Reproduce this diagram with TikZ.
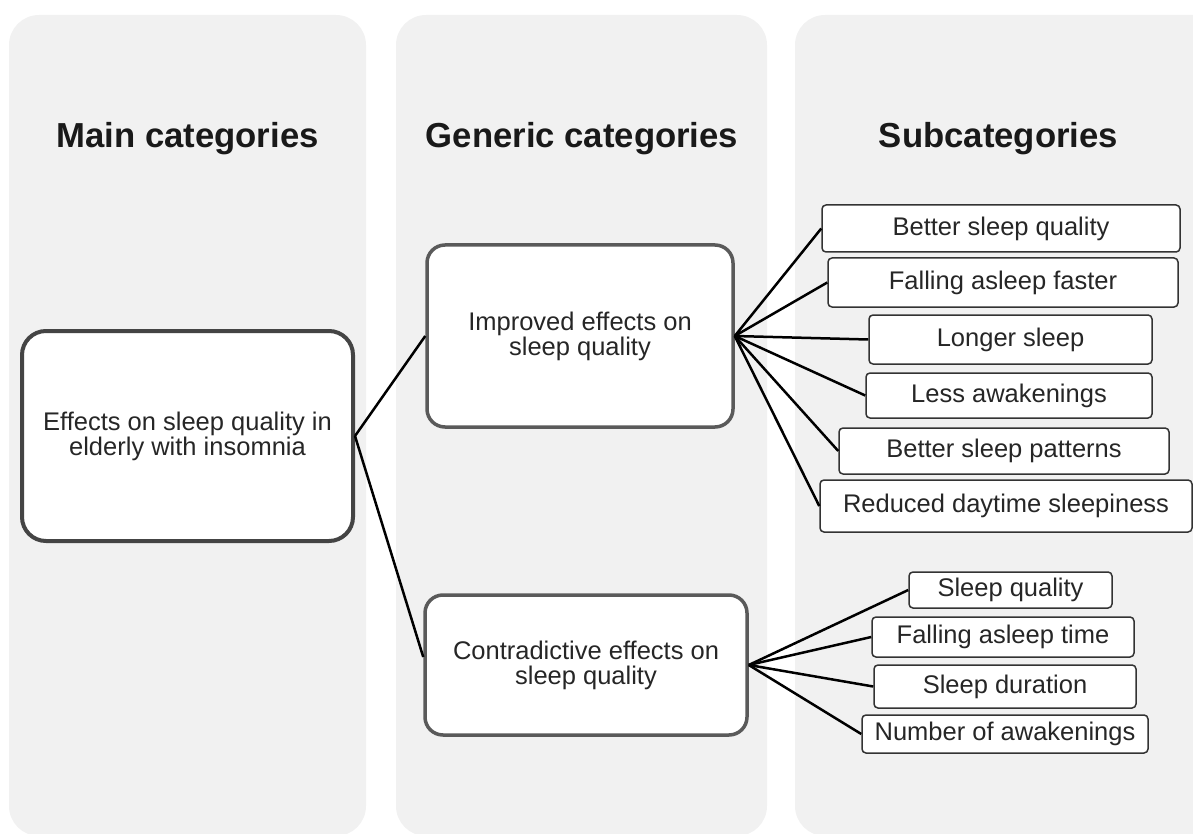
\documentclass[tikz,border=0pt]{standalone}
\usepackage{fontspec}
\setmainfont{Liberation Sans}
\definecolor{panelgray}{HTML}{F1F1F1}
\definecolor{mainborder}{HTML}{444444}
\definecolor{genborder}{HTML}{5A5A5A}
\definecolor{subborder}{HTML}{333333}
\begin{document}
\begin{tikzpicture}[x=1pt,y=-1pt,
  panel/.style={fill=panelgray,draw=none,rounded corners=30pt},
  heading/.style={anchor=base,font=\bfseries\fontsize{34.7}{36}\selectfont,text=black!90},
  mainbox/.style={draw=mainborder,line width=4pt,fill=white,rounded corners=24pt,
    align=center,inner sep=0pt,font=\fontsize{25.5}{25}\selectfont,text=black!85},
  genbox/.style={draw=genborder,line width=3.5pt,fill=white,rounded corners=18pt,
    align=center,inner sep=0pt,font=\fontsize{25.5}{25}\selectfont,text=black!85},
  subbox/.style={draw=subborder,line width=1.5pt,fill=white,rounded corners=4pt,
    align=center,inner sep=0pt,font=\fontsize{25.5}{25}\selectfont,text=black!85},
  conn/.style={draw=black,line width=2.5pt}]
\useasboundingbox (0,0) rectangle (1193,834);
\clip (0,0) rectangle (1193,834);
% panels
\path[panel] (9,15) rectangle (366,836);
\path[panel] (396,15) rectangle (767,836);
\path[panel] (795,15) rectangle (1230,836);
% headings
\node[heading] (h1) at (187.5,148) {Main categories};
\node[heading] (h2) at (582,148) {Generic categories};
\node[heading] (h3) at (998.5,148) {Subcategories};
% main box
\node[mainbox,minimum width=331pt,minimum height=210pt] (main) at (187.5,436)
  {Effects on sleep quality in\\elderly with insomnia};
% generic boxes
\node[genbox,minimum width=306pt,minimum height=182pt] (imp) at (580,336)
  {Improved effects on\\sleep quality};
\node[genbox,minimum width=322pt,minimum height=140pt] (cont) at (586,665)
  {Contradictive effects on\\sleep quality};
% subcategories (improved)
\node[subbox,minimum width=358pt,minimum height=47pt] (s1) at (1001,228.5) {Better sleep quality};
\node[subbox,minimum width=350pt,minimum height=49pt] (s2) at (1003,282.5) {Falling asleep faster};
\node[subbox,minimum width=283pt,minimum height=49pt] (s3) at (1010.5,339.5) {Longer sleep};
\node[subbox,minimum width=286pt,minimum height=45pt] (s4) at (1009,395.5) {Less awakenings};
\node[subbox,minimum width=330pt,minimum height=46pt] (s5) at (1004,451) {Better sleep patterns};
\node[subbox,minimum width=372pt,minimum height=52pt] (s6) at (1006,506) {Reduced daytime sleepiness};
% subcategories (contradictive)
\node[subbox,minimum width=203pt,minimum height=36pt] (c1) at (1010.5,590) {Sleep quality};
\node[subbox,minimum width=262pt,minimum height=40pt] (c2) at (1003,637) {Falling asleep time};
\node[subbox,minimum width=262pt,minimum height=43pt] (c3) at (1005,686.5) {Sleep duration};
\node[subbox,minimum width=286pt,minimum height=38pt] (c4) at (1005,734) {Number of awakenings};
% connectors
\draw[conn] (main.east) -- (imp.west);
\draw[conn] (main.east) -- ([yshift=8pt]cont.west);
\foreach \s in {s1,s2,s3,s4,s5,s6} \draw[conn] (imp.east) -- (\s.west);
\foreach \s in {c1,c2,c3,c4} \draw[conn] (cont.east) -- (\s.west);
\end{tikzpicture}
\end{document}
